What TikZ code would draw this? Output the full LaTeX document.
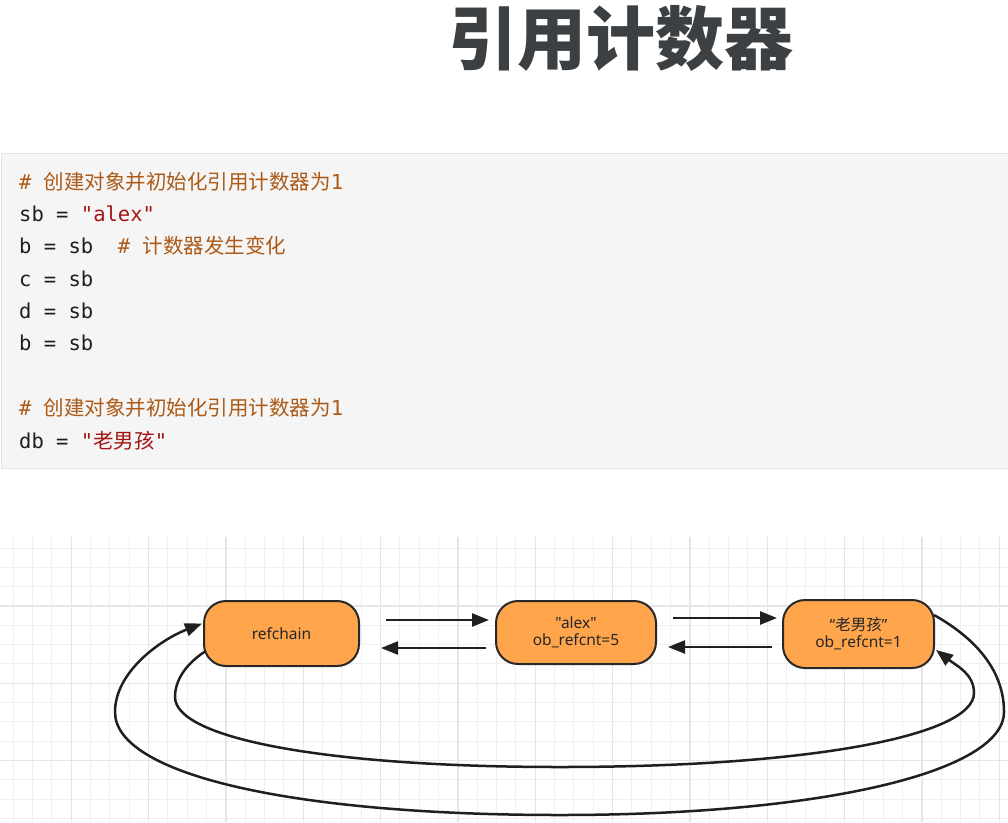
\documentclass[tikz,border=0pt]{standalone}
\usepackage{fontspec}
\setmonofont{DejaVu Sans Mono}
\newfontfamily\cjk{Noto Sans CJK SC}
\newfontfamily\lblfont{Noto Sans}
\usetikzlibrary{arrows.meta,calc}
\definecolor{titlegray}{RGB}{60,64,67}
\definecolor{codebg}{RGB}{245,245,245}
\definecolor{codeborder}{RGB}{227,227,227}
\definecolor{codetext}{RGB}{30,30,30}
\definecolor{cmt}{RGB}{172,90,22}
\definecolor{str}{RGB}{163,21,21}
\definecolor{nodefill}{RGB}{255,166,77}
\definecolor{nodeline}{RGB}{40,40,40}
\definecolor{gridminor}{RGB}{240,240,240}
\definecolor{gridmajor}{RGB}{230,230,230}
\tikzset{
  codeline/.style={anchor=base west, inner sep=0pt, text=codetext,
    font=\fontsize{20.5}{24}\ttfamily},
  objbox/.style={draw=nodeline, line width=2pt, fill=nodefill, rounded corners=22pt,
    inner sep=0pt, align=center, text=black!85,
    font=\lblfont\fontsize{15.5}{19}\selectfont},
  conn/.style={draw=black!88, line width=2.5pt,
    -{Triangle[length=17pt,width=13pt]}},
}
\begin{document}
\begin{tikzpicture}[x=1pt,y=-1pt]
\useasboundingbox (0,0) rectangle (1008,822);
\fill[white] (0,0) rectangle (1008,822);

% title
\node[text=titlegray, font=\cjk\bfseries\fontsize{69}{72}\selectfont, inner sep=0pt]
  (title) at (621,38) {引用计数器};

% code box
\draw[fill=codebg, draw=codeborder, line width=1pt] (1,153) rectangle (1012,468);
\node[codeline] (l1) at (19,189) {\color{cmt}\#\ {\cjk 创建对象并初始化引用计数器为}1};
\node[codeline] (l2) at (19,221) {sb\ =\ \textcolor{str}{"alex"}};
\node[codeline] (l3) at (19,253) {b\ =\ sb\ \ \textcolor{cmt}{\#\ {\cjk 计数器发生变化}}};
\node[codeline] (l4) at (19,286) {c\ =\ sb};
\node[codeline] (l5) at (19,318) {d\ =\ sb};
\node[codeline] (l6) at (19,350) {b\ =\ sb};
\node[codeline] (l7) at (19,415) {\color{cmt}\#\ {\cjk 创建对象并初始化引用计数器为}1};
\node[codeline] (l8) at (19,448) {db\ =\ \textcolor{str}{"{\cjk 老男孩}"}};

% grid
\foreach \i in {0,...,51}
  \draw[gridminor, line width=1pt] (13.33+19.33*\i,537) -- (13.33+19.33*\i,822);
\foreach \j in {0,...,14}
  \draw[gridminor, line width=1pt] (0,548+19.33*\j) -- (1008,548+19.33*\j);
\foreach \i in {0,...,12}
  \draw[gridmajor, line width=1.2pt] (71.3+77.33*\i,537) -- (71.3+77.33*\i,822);
\foreach \j in {0,1,2}
  \draw[gridmajor, line width=1.2pt] (0,606+77.33*\j) -- (1008,606+77.33*\j);

% objects
\node[objbox, minimum width=155pt, minimum height=65pt] (refchain) at (281.5,633.5) {refchain};
\node[objbox, minimum width=160pt, minimum height=63pt] (alex) at (576,632.5)
  {"alex"\\[-2pt]ob\_refcnt=5};
\node[objbox, minimum width=151pt, minimum height=68pt] (lnh) at (858.5,634)
  {“{\cjk 老男孩}”\\[-2pt]ob\_refcnt=1};

% straight connectors
\draw[conn, shorten <=26pt, shorten >=6pt] (refchain.east |- 0,620) -- (alex.west |- 0,620);
\draw[conn, shorten <=9pt, shorten >=21pt] (alex.west |- 0,648) -- (refchain.east |- 0,648);
\draw[conn, shorten <=16pt, shorten >=5pt] (alex.east |- 0,618) -- (lnh.west |- 0,618);
\draw[conn, shorten <=10pt, shorten >=11pt] (lnh.west |- 0,647) -- (alex.east |- 0,647);

% curved connectors
\draw[conn] ($(lnh.east)+(-1,-19)$)
  .. controls (975,638) and (1004,670) .. (1004,712)
  .. controls (1004,771) and (826,815) .. (560,815)
  .. controls (294,815) and (115,775) .. (115,712)
  .. controls (115,672) and (160,640) .. ($(refchain.west)+(-1,-10)$);
\draw[conn] ($(refchain.west)+(2,18)$)
  .. controls (186,664) and (175,680) .. (175,697)
  .. controls (175,739) and (329,767) .. (560,767)
  .. controls (808,767) and (974,736) .. (974,693)
  .. controls (974,674) and (957,666) .. ($(lnh.east)+(1,16)$);
\end{tikzpicture}
\end{document}
